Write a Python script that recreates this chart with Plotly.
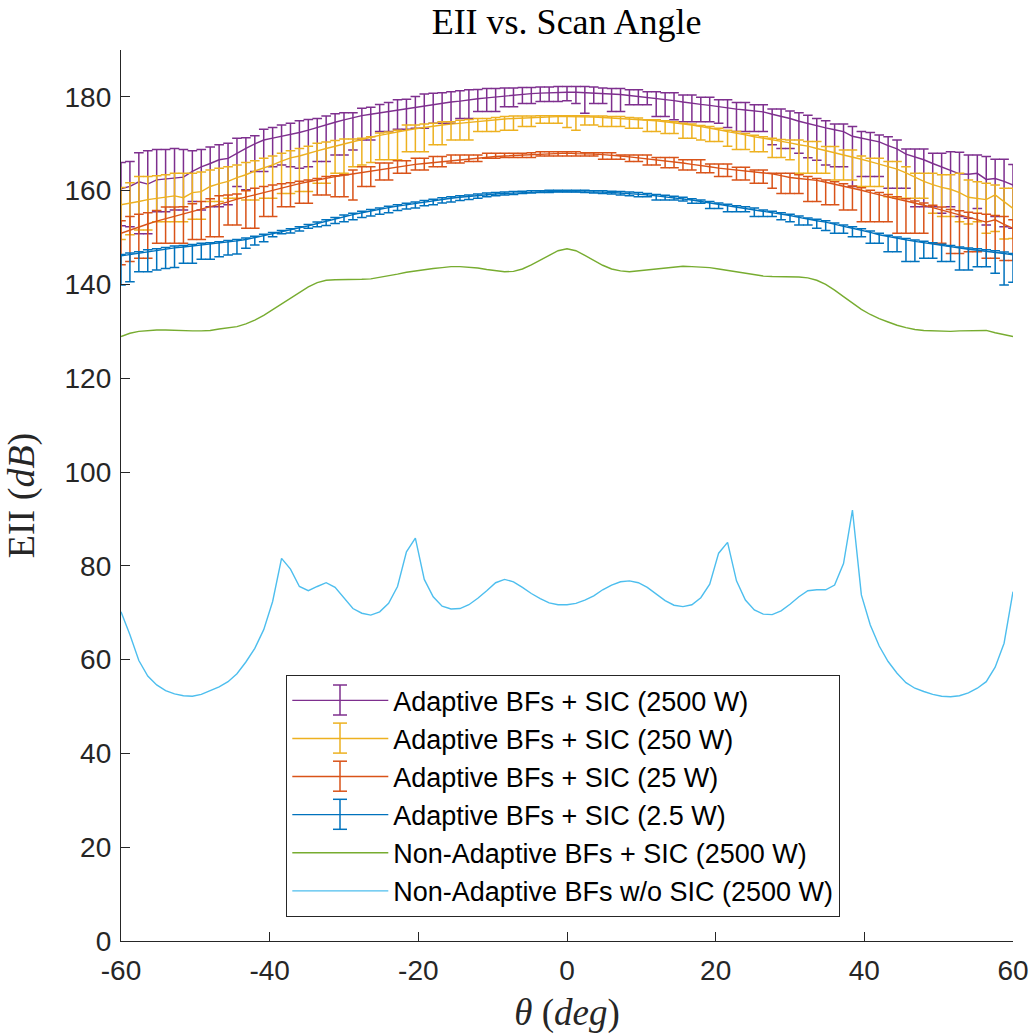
import plotly.graph_objects as go

# ---------------- data ----------------
theta = [-60.0, -58.8, -57.6, -56.4, -55.2, -54.0, -52.8, -51.6, -50.4, -49.2,
         -48.0, -46.8, -45.6, -44.4, -43.2, -42.0, -40.8, -39.6, -38.4, -37.2,
         -36.0, -34.8, -33.6, -32.4, -31.2, -30.0, -28.8, -27.6, -26.4, -25.2,
         -24.0, -22.8, -21.6, -20.4, -19.2, -18.0, -16.8, -15.6, -14.4, -13.2,
         -12.0, -10.8, -9.6, -8.4, -7.2, -6.0, -4.8, -3.6, -2.4, -1.2,
         0.0, 1.2, 2.4, 3.6, 4.8, 6.0, 7.2, 8.4, 9.6, 10.8,
         12.0, 13.2, 14.4, 15.6, 16.8, 18.0, 19.2, 20.4, 21.6, 22.8,
         24.0, 25.2, 26.4, 27.6, 28.8, 30.0, 31.2, 32.4, 33.6, 34.8,
         36.0, 37.2, 38.4, 39.6, 40.8, 42.0, 43.2, 44.4, 45.6, 46.8,
         48.0, 49.2, 50.4, 51.6, 52.8, 54.0, 55.2, 56.4, 57.6, 58.8, 60.0]

# Adaptive BFs + SIC (2500 W)
p2500_mean = [160.4, 160.9, 161.9, 161.4, 162.3, 162.5, 162.6, 162.9, 164.1, 165.1, 165.8, 166.6, 166.9, 168.0, 169.0, 170.0, 170.8, 171.2, 171.6, 171.9, 172.4, 172.9, 173.5, 174.0, 174.6, 175.1,
              175.6, 176.0, 176.3, 176.6, 176.9, 177.2, 177.5, 177.8, 178.1, 178.4, 178.6, 178.9, 179.1, 179.4, 179.6, 179.8, 180.0, 180.2, 180.4, 180.5, 180.7, 180.8, 180.9, 181.0, 181.0,
              181.0, 180.9, 180.9, 180.8, 180.7, 180.5, 180.3, 180.1, 179.9, 179.7, 179.5, 179.2, 178.9, 178.6, 178.4, 178.2, 177.9, 177.6, 177.4, 177.2, 177.0, 176.8, 176.3, 175.9, 175.4,
              174.8, 174.3, 173.8, 173.4, 173.0, 172.6, 171.6, 171.2, 170.9, 170.4, 169.6, 168.9, 167.8, 167.2, 166.6, 165.8, 165.1, 164.3, 163.6, 163.5, 163.7, 162.4, 162.6, 162.0, 161.2]
p2500_upper = [166.0, 166.2, 168.1, 168.5, 168.8, 168.8, 169.0, 168.8, 168.5, 168.8, 169.3, 169.8, 170.1, 171.2, 171.3, 171.7, 173.1, 173.5, 174.0, 174.4, 174.9, 175.2, 175.4, 175.9, 176.4, 176.6,
               176.6, 177.6, 177.8, 178.4, 178.8, 179.4, 179.5, 180.1, 180.6, 180.8, 180.9, 181.1, 181.3, 181.5, 181.6, 181.8, 181.8, 181.9, 181.9, 182.0, 182.0, 182.1, 182.1, 182.2, 182.2,
               182.2, 182.2, 182.1, 181.9, 181.8, 181.8, 181.5, 181.5, 181.1, 181.1, 180.9, 180.9, 180.4, 180.4, 179.9, 179.9, 179.4, 179.4, 178.8, 178.8, 178.3, 178.3, 177.4, 177.4, 177.0,
               176.6, 176.1, 175.4, 174.9, 174.2, 174.2, 173.7, 172.6, 172.4, 171.9, 171.5, 170.8, 168.9, 168.9, 168.9, 168.0, 168.0, 168.3, 168.2, 167.6, 167.6, 167.3, 166.7, 166.7, 165.6]
p2500_lower = [152.5, 152.3, 150.8, 150.8, 155.5, 155.5, 155.9, 155.9, 157.7, 155.9, 156.6, 156.6, 157.0, 160.9, 160.2, 164.1, 164.1, 165.1, 165.5, 165.1, 164.8, 165.1, 166.2, 166.2, 167.6, 167.6,
               168.7, 170.8, 170.8, 172.6, 172.6, 173.1, 173.1, 173.3, 173.3, 174.4, 174.4, 174.4, 175.4, 175.4, 176.9, 176.9, 176.9, 177.9, 177.9, 178.6, 178.6, 179.0, 179.0, 179.0, 179.2,
               178.6, 176.5, 178.6, 178.6, 176.9, 176.9, 178.3, 178.3, 178.3, 175.8, 175.8, 175.1, 174.7, 174.7, 174.7, 174.7, 174.4, 173.5, 172.6, 172.6, 172.6, 172.6, 169.8, 169.0, 169.0,
               168.0, 167.0, 166.5, 165.5, 165.1, 165.1, 160.9, 163.0, 163.0, 163.0, 160.5, 160.5, 160.5, 156.6, 156.6, 156.6, 155.2, 156.6, 154.5, 154.1, 156.2, 152.7, 154.5, 152.3, 152.0]

# Adaptive BFs + SIC (250 W)
p250_mean = [157.0, 157.3, 157.7, 158.1, 158.4, 158.7, 158.9, 158.5, 159.6, 159.8, 160.9, 161.5, 162.0, 162.8, 163.4, 164.2, 164.8, 165.5, 166.3, 167.0, 167.4, 168.0, 168.5, 169.0, 169.5, 170.0,
             170.4, 170.9, 171.4, 171.8, 172.2, 172.6, 172.9, 173.2, 173.5, 173.8, 174.0, 174.2, 174.4, 174.6, 174.8, 175.0, 175.2, 175.3, 175.4, 175.5, 175.6, 175.7, 175.7, 175.8, 175.8,
             175.8, 175.7, 175.7, 175.6, 175.5, 175.4, 175.3, 175.2, 175.1, 174.9, 174.7, 174.5, 174.3, 174.0, 173.7, 173.4, 173.0, 172.6, 172.3, 171.9, 171.5, 171.2, 170.9, 170.6, 170.2,
             169.8, 169.5, 169.0, 168.6, 168.1, 167.6, 167.2, 166.7, 166.2, 165.7, 165.2, 164.6, 163.8, 162.9, 162.0, 161.3, 160.7, 160.3, 159.6, 158.6, 158.3, 158.1, 159.1, 157.6, 156.2]
p250_upper = [160.7, 161.7, 163.0, 163.0, 163.2, 163.4, 163.7, 163.7, 163.7, 164.0, 164.4, 164.8, 165.1, 165.5, 166.0, 166.4, 166.9, 167.4, 168.0, 168.5, 169.0, 169.5, 170.1, 170.4, 170.7, 171.0,
              171.0, 171.2, 171.5, 172.3, 172.5, 172.9, 174.0, 174.0, 174.2, 174.4, 174.7, 174.7, 175.0, 175.2, 175.4, 175.4, 175.6, 175.8, 175.9, 175.9, 175.9, 176.0, 176.0, 176.0, 176.0,
              176.0, 176.0, 175.9, 175.9, 175.8, 175.8, 175.6, 175.5, 175.1, 175.1, 174.9, 174.7, 174.4, 174.2, 173.9, 173.7, 173.3, 172.9, 172.6, 172.2, 171.8, 171.5, 171.2, 170.9, 170.8,
              170.8, 170.5, 170.5, 169.4, 169.4, 168.7, 168.7, 167.4, 166.9, 166.9, 166.2, 166.2, 165.1, 163.7, 163.7, 163.7, 163.4, 163.4, 163.7, 162.3, 161.9, 161.6, 161.2, 160.5, 160.5]
p250_lower = [149.6, 150.6, 151.6, 151.6, 153.4, 153.4, 153.4, 153.4, 153.9, 153.9, 157.7, 157.7, 158.4, 158.4, 158.0, 158.0, 158.4, 158.4, 159.4, 159.4, 159.8, 159.8, 161.6, 161.6, 163.7, 163.7,
              165.1, 165.5, 166.0, 166.6, 166.6, 166.6, 168.3, 168.3, 168.3, 169.8, 169.8, 170.8, 170.8, 170.8, 172.6, 172.6, 172.6, 172.9, 172.9, 173.7, 173.7, 174.4, 174.4, 174.4, 173.5,
              172.9, 174.0, 174.0, 173.7, 173.7, 173.7, 173.3, 173.3, 172.6, 172.6, 172.2, 172.2, 171.2, 171.2, 170.8, 170.5, 170.5, 169.5, 168.8, 168.8, 168.3, 168.3, 167.1, 167.1, 166.6,
              163.7, 163.7, 163.7, 163.7, 162.3, 162.3, 162.3, 160.9, 160.9, 160.9, 158.7, 158.4, 158.4, 158.4, 158.4, 155.2, 154.5, 154.5, 153.4, 152.9, 153.4, 150.9, 151.3, 149.7, 149.8]

# Adaptive BFs + SIC (25 W)
p25_mean = [150.9, 151.6, 152.3, 152.9, 153.5, 154.0, 154.5, 155.0, 155.6, 156.1, 156.6, 157.1, 157.6, 158.2, 158.6, 159.1, 159.6, 160.1, 160.6, 161.1, 161.5, 161.9, 162.3, 162.6, 163.0, 163.3,
            163.6, 163.9, 164.2, 164.5, 164.8, 165.1, 165.4, 165.6, 165.8, 166.0, 166.2, 166.4, 166.6, 166.8, 167.0, 167.2, 167.3, 167.4, 167.5, 167.6, 167.7, 167.8, 167.9, 167.9, 168.0,
            167.9, 167.9, 167.8, 167.7, 167.6, 167.4, 167.2, 167.0, 166.8, 166.6, 166.4, 166.2, 165.9, 165.6, 165.4, 165.1, 164.8, 164.6, 164.4, 164.2, 164.0, 163.8, 163.6, 163.2, 162.8,
            162.6, 162.4, 162.2, 161.8, 161.4, 161.0, 160.6, 160.1, 159.6, 159.1, 158.6, 158.2, 157.8, 157.4, 156.9, 156.4, 155.9, 155.3, 154.8, 154.3, 153.9, 153.3, 153.8, 152.8, 152.0]
p25_upper = [153.6, 154.5, 155.0, 155.3, 155.8, 156.5, 156.5, 156.6, 157.2, 157.7, 158.3, 158.9, 159.1, 159.3, 160.0, 160.5, 160.9, 161.2, 161.5, 161.7, 162.0, 162.3, 162.6, 163.0, 163.2, 163.4,
             164.4, 165.1, 165.1, 165.9, 165.9, 166.4, 166.4, 166.9, 166.9, 167.3, 167.3, 167.6, 167.6, 167.6, 167.6, 168.0, 168.0, 168.0, 168.0, 168.0, 168.1, 168.3, 168.3, 168.3, 168.3,
             168.3, 168.1, 168.1, 168.1, 168.1, 167.6, 167.6, 167.6, 167.6, 167.1, 167.1, 167.1, 166.6, 166.6, 166.6, 165.7, 165.7, 165.7, 165.0, 165.0, 164.4, 164.4, 163.7, 163.7, 163.7,
             163.4, 163.0, 162.6, 162.3, 161.9, 161.5, 161.0, 160.6, 160.1, 159.6, 159.2, 158.7, 158.3, 157.8, 157.4, 156.9, 156.5, 156.0, 155.7, 155.4, 155.2, 155.0, 154.7, 154.5, 153.8]
p25_lower = [144.2, 144.9, 145.6, 145.6, 148.8, 148.8, 148.8, 148.8, 149.6, 149.6, 150.2, 150.2, 152.7, 152.7, 152.0, 152.0, 154.5, 154.5, 156.6, 156.6, 157.3, 157.3, 159.1, 159.1, 158.7, 158.7,
             158.0, 160.9, 160.9, 162.3, 162.3, 163.7, 163.7, 164.4, 164.4, 165.1, 165.1, 165.9, 165.9, 166.2, 166.2, 166.9, 166.9, 167.1, 167.1, 167.1, 167.1, 167.4, 167.4, 167.4, 167.4,
             167.4, 167.4, 167.4, 166.7, 166.7, 166.7, 166.2, 166.2, 165.5, 165.5, 164.9, 164.9, 164.4, 164.4, 163.8, 163.8, 163.0, 163.0, 162.3, 162.3, 161.6, 161.6, 160.5, 159.4, 159.4,
             159.4, 157.7, 157.7, 157.0, 157.0, 155.9, 155.9, 153.4, 153.4, 153.4, 153.4, 150.9, 150.9, 150.9, 150.9, 148.8, 148.8, 146.6, 146.6, 147.0, 147.0, 145.6, 145.6, 145.1, 145.1]

# Adaptive BFs + SIC (2.5 W)
p2_5_mean = [146.1, 146.4, 146.7, 147.0, 147.3, 147.6, 147.8, 148.0, 148.2, 148.4, 148.6, 148.8, 149.0, 149.3, 149.6, 150.0, 150.4, 150.8, 151.2, 151.6, 152.0, 152.5, 153.0, 153.5, 154.0, 154.5,
             154.9, 155.3, 155.7, 156.0, 156.4, 156.7, 157.0, 157.3, 157.6, 157.9, 158.2, 158.4, 158.6, 158.8, 159.0, 159.2, 159.3, 159.4, 159.5, 159.6, 159.7, 159.7, 159.8, 159.8, 159.8,
             159.8, 159.8, 159.7, 159.7, 159.6, 159.5, 159.4, 159.3, 159.1, 158.9, 158.7, 158.5, 158.3, 158.0, 157.7, 157.4, 157.1, 156.8, 156.5, 156.3, 156.0, 155.6, 155.3, 155.0, 154.7,
             154.3, 153.9, 153.6, 153.3, 152.8, 152.4, 152.0, 151.6, 151.1, 150.6, 150.2, 149.8, 149.5, 149.2, 148.9, 148.6, 148.3, 148.0, 147.7, 147.5, 147.3, 147.1, 146.9, 146.6, 146.3]
p2_5_upper = [146.4, 146.7, 147.0, 147.4, 147.6, 147.9, 148.2, 148.3, 148.5, 148.8, 148.9, 149.1, 149.4, 149.6, 149.9, 150.3, 150.7, 151.1, 151.5, 151.9, 152.3, 152.8, 153.3, 153.8, 154.3, 154.8,
              155.2, 155.6, 156.0, 156.3, 156.7, 157.0, 157.3, 157.6, 157.9, 158.2, 158.5, 158.7, 158.9, 159.1, 159.3, 159.5, 159.6, 159.7, 159.8, 159.9, 160.0, 160.0, 160.1, 160.1, 160.1,
              160.1, 160.1, 160.0, 160.0, 159.9, 159.8, 159.7, 159.6, 159.4, 159.2, 159.0, 158.8, 158.6, 158.3, 158.0, 157.7, 157.4, 157.1, 156.8, 156.6, 156.3, 155.9, 155.6, 155.3, 155.0,
              154.6, 154.2, 153.9, 153.6, 153.1, 152.7, 152.3, 151.9, 151.4, 150.9, 150.5, 150.1, 149.8, 149.5, 149.2, 148.9, 148.6, 148.3, 148.0, 147.8, 147.6, 147.4, 147.2, 146.9, 146.6]
p2_5_lower = [139.9, 140.6, 142.7, 142.7, 143.1, 143.4, 143.6, 144.5, 144.5, 145.4, 145.4, 145.9, 146.3, 146.5, 147.7, 148.4, 149.1, 150.2, 150.8, 151.0, 151.4, 152.0, 152.3, 152.6, 153.0, 153.4,
              153.8, 154.3, 154.6, 155.0, 155.3, 155.8, 156.1, 156.3, 156.8, 157.0, 157.4, 157.6, 157.9, 158.1, 158.4, 158.7, 158.9, 159.1, 159.2, 159.4, 159.5, 159.6, 159.6, 159.7, 159.7,
              159.7, 159.6, 159.5, 159.4, 159.3, 159.1, 158.9, 158.7, 158.7, 158.0, 158.0, 158.0, 157.8, 157.3, 157.3, 156.2, 156.2, 155.5, 155.5, 155.5, 154.5, 154.5, 154.5, 153.8, 153.4,
              152.7, 152.7, 152.0, 151.5, 150.9, 150.9, 150.2, 150.2, 148.8, 148.8, 147.0, 147.0, 144.9, 144.9, 145.6, 145.6, 144.9, 144.9, 143.1, 143.1, 143.8, 143.8, 142.4, 139.9, 140.5]

# Non-Adaptive BFs + SIC (2500 W)
nonadapt_sic = [128.9, 129.6, 130.0, 130.2, 130.3, 130.3, 130.2, 130.1, 130.1, 130.1, 130.2, 130.5, 130.7, 131.0, 131.6, 132.4, 133.4, 134.6, 135.8, 137.0,
                138.3, 139.5, 140.4, 140.9, 141.0, 141.0, 141.0, 141.1, 141.2, 141.5, 141.8, 142.2, 142.6, 142.9, 143.2, 143.4, 143.6, 143.8, 143.8, 143.7,
                143.5, 143.2, 142.9, 142.7, 142.8, 143.3, 144.2, 145.2, 146.3, 147.2, 147.6, 147.2, 146.2, 145.1, 144.1, 143.3, 142.9, 142.7, 142.9, 143.1,
                143.4, 143.6, 143.8, 143.9, 143.8, 143.7, 143.6, 143.3, 143.0, 142.6, 142.3, 142.0, 141.8, 141.7, 141.7, 141.7, 141.6, 141.4, 140.9, 140.0,
                138.8, 137.4, 136.0, 134.7, 133.6, 132.7, 132.0, 131.3, 130.8, 130.4, 130.2, 130.1, 130.0, 130.0, 130.1, 130.1, 130.2, 130.2, 129.7, 129.3, 128.9]

# Non-Adaptive BFs w/o SIC (2500 W)
nonadapt_nosic = [70.2, 65.3, 59.8, 56.5, 54.6, 53.4, 52.7, 52.3, 52.2, 52.6, 53.4, 54.2, 55.3, 57.0, 59.5, 62.4, 66.4, 72.4, 81.6, 79.3,
                  75.6, 74.7, 75.6, 76.4, 75.4, 73.1, 70.9, 69.9, 69.5, 70.2, 72.0, 75.6, 83.0, 85.9, 77.1, 73.4, 71.4, 70.8, 70.9, 71.7,
                  73.1, 74.7, 76.4, 77.1, 76.6, 75.4, 74.1, 73.0, 72.1, 71.7, 71.7, 72.0, 72.7, 73.6, 74.9, 75.9, 76.6, 76.8, 76.4, 75.4,
                  74.0, 72.6, 71.6, 71.3, 71.7, 73.2, 76.1, 82.7, 85.0, 76.8, 72.7, 70.6, 69.7, 69.6, 70.4, 71.8, 73.4, 74.7, 74.9, 74.9,
                  75.9, 80.5, 91.9, 73.8, 67.4, 62.9, 59.6, 57.1, 55.1, 53.9, 53.2, 52.6, 52.2, 52.1, 52.3, 52.9, 53.9, 55.3, 58.4, 63.5, 74.5]

legend_names = ["Adaptive BFs + SIC (2500 W)", "Adaptive BFs + SIC (250 W)",
                "Adaptive BFs + SIC (25 W)", "Adaptive BFs + SIC (2.5 W)",
                "Non-Adaptive BFs + SIC (2500 W)", "Non-Adaptive BFs w/o SIC (2500 W)"]
x_ticks = [-60, -40, -20, 0, 20, 40, 60]
x_ticklabels = ["-60", "-40", "-20", "0", "20", "40", "60"]
y_ticks = [0, 20, 40, 60, 80, 100, 120, 140, 160, 180]

# ---------------- styling ----------------
C_PURPLE = "#7E2F8E"
C_YELLOW = "#EDB120"
C_ORANGE = "#D95319"
C_BLUE = "#0072BD"
C_GREEN = "#77AC30"
C_LBLUE = "#4DBEEE"
AX = "#262626"
SANS = "Liberation Sans, Arial, Helvetica, sans-serif"
SERIF = "Liberation Serif, Times New Roman, serif"

W = H = 1034
ML, MR, MT, MB = 121, 21, 50, 93
PW, PH = W - ML - MR, H - MT - MB

fig = go.Figure()

err_series = [
    (legend_names[0], p2500_mean, p2500_upper, p2500_lower, C_PURPLE),
    (legend_names[1], p250_mean, p250_upper, p250_lower, C_YELLOW),
    (legend_names[2], p25_mean, p25_upper, p25_lower, C_ORANGE),
    (legend_names[3], p2_5_mean, p2_5_upper, p2_5_lower, C_BLUE),
]
for i, (name, m, up, lo, col) in enumerate(err_series):
    assert len(m) == len(up) == len(lo) == len(theta)
    fig.add_trace(go.Scatter(
        x=theta, y=m, mode="lines", name=name,
        line=dict(color=col, width=1.4),
        error_y=dict(type="data", symmetric=False,
                     array=[u - v for u, v in zip(up, m)],
                     arrayminus=[v - l for v, l in zip(m, lo)],
                     color=col, thickness=1.5, width=4.8),
        cliponaxis=False,
    ))

fig.add_trace(go.Scatter(x=theta, y=nonadapt_sic, mode="lines", name=legend_names[4],
                         line=dict(color=C_GREEN, width=1.4)))
fig.add_trace(go.Scatter(x=theta, y=nonadapt_nosic, mode="lines", name=legend_names[5],
                         line=dict(color=C_LBLUE, width=1.4)))


def px2paper(px, py):
    return (px - ML) / PW, (H - MB - py) / PH


# legend frame: white box under the (transparent) legend, error-bar glyphs on its line samples
LEG_L, LEG_T, LEG_R, LEG_B = 286, 675, 850, 911
bx0, by0 = px2paper(LEG_L, LEG_B)
bx1, by1 = px2paper(LEG_R, LEG_T)
shapes = [dict(type="rect", xref="paper", yref="paper", x0=bx0, x1=bx1, y0=by0, y1=by1,
               fillcolor="white", line=dict(width=0), layer="below")]

icon_cols = [C_PURPLE, C_YELLOW, C_ORANGE, C_BLUE]
row_y = [700, 738.1, 776.2, 814.3]
icon_x, icon_half_h, cap_half_w = 340, 15, 7
for col, ry in zip(icon_cols, row_y):
    x0, y0 = px2paper(icon_x, ry - icon_half_h)
    _, y1 = px2paper(icon_x, ry + icon_half_h)
    xl, _ = px2paper(icon_x - cap_half_w, ry)
    xr, _ = px2paper(icon_x + cap_half_w, ry)
    ln = dict(color=col, width=1.5)
    shapes.append(dict(type="line", xref="paper", yref="paper", x0=x0, x1=x0, y0=y0, y1=y1, line=ln, layer="above"))
    shapes.append(dict(type="line", xref="paper", yref="paper", x0=xl, x1=xr, y0=y0, y1=y0, line=ln, layer="above"))
    shapes.append(dict(type="line", xref="paper", yref="paper", x0=xl, x1=xr, y0=y1, y1=y1, line=ln, layer="above"))

lx, ly = px2paper(LEG_L, LEG_T)

fig.update_layout(
    width=W, height=H,
    paper_bgcolor="white", plot_bgcolor="white",
    margin=dict(l=ML, r=MR, t=MT, b=MB, autoexpand=False),
    title=dict(text="EII vs. Scan Angle", x=0.548, xanchor="center", y=0.979, yanchor="middle",
               font=dict(family=SERIF, size=36, color="black")),
    showlegend=True,
    legend=dict(x=lx, y=ly, xanchor="left", yanchor="top",
                bgcolor="rgba(0,0,0,0)", bordercolor=AX, borderwidth=1.3,
                font=dict(family=SANS, size=27, color="black"),
                tracegroupgap=0, itemwidth=96),
    shapes=shapes,
    xaxis=dict(range=[-60, 60], tickmode="array", tickvals=x_ticks, ticktext=x_ticklabels,
               ticks="inside", ticklen=9, tickwidth=1.3, tickcolor=AX,
               showline=True, linecolor=AX, linewidth=1.3, mirror=False,
               showgrid=False, zeroline=False, automargin=False, ticklabelstandoff=4,
               tickfont=dict(family=SANS, size=28, color=AX),
               title=dict(text="<i>θ</i> (<i>deg</i>)", standoff=22,
                          font=dict(family=SERIF, size=37, color=AX))),
    yaxis=dict(range=[0, 190], tickmode="array", tickvals=y_ticks,
               ticks="inside", ticklen=9, tickwidth=1.3, tickcolor=AX,
               showline=True, linecolor=AX, linewidth=1.3, mirror=False,
               showgrid=False, zeroline=False, automargin=False, ticklabelstandoff=3,
               tickfont=dict(family=SANS, size=28, color=AX),
               title=dict(text="EII (<i>dB</i>)", standoff=24,
                          font=dict(family=SERIF, size=38, color=AX))),
)

fig.write_html("out.html")
